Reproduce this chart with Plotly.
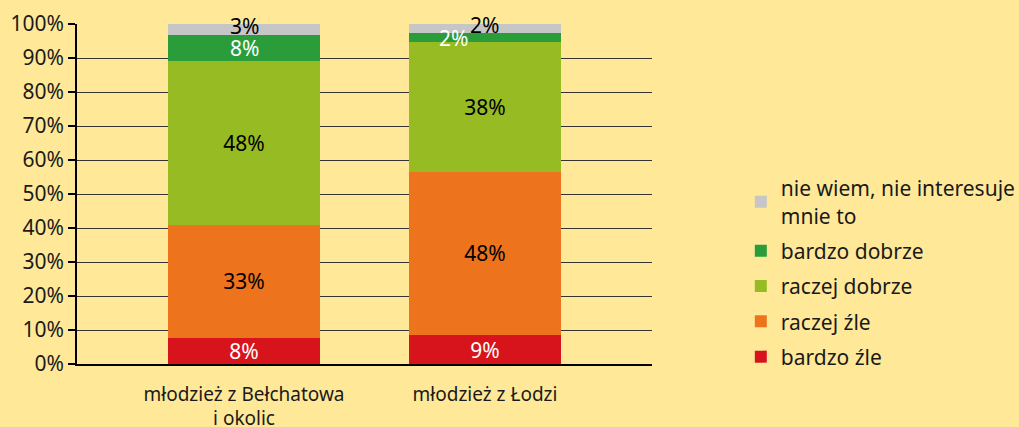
import plotly.graph_objects as go

categories = ["młodzież z Bełchatowa<br>i okolic", "młodzież z Łodzi"]

series_names = ["bardzo źle", "raczej źle", "raczej dobrze", "bardzo dobrze",
                "nie wiem, nie interesuje<br>mnie to"]

bardzo_zle = [7.7, 8.5]
raczej_zle = [33.2, 48.1]
raczej_dobrze = [48.2, 38.1]
bardzo_dobrze = [7.7, 2.7]
nie_wiem = [3.2, 2.6]

labels_bardzo_zle = ["8%", "9%"]
labels_raczej_zle = ["33%", "48%"]
labels_raczej_dobrze = ["48%", "38%"]
labels_bardzo_dobrze = ["8%", "2%"]
labels_nie_wiem = ["3%", "2%"]

y_ticks = [0, 10, 20, 30, 40, 50, 60, 70, 80, 90, 100]
y_tick_labels = [f"{v}%" for v in y_ticks]

series_values = [bardzo_zle, raczej_zle, raczej_dobrze, bardzo_dobrze, nie_wiem]
series_labels = [labels_bardzo_zle, labels_raczej_zle, labels_raczej_dobrze,
                 labels_bardzo_dobrze, labels_nie_wiem]
colors = ["#D7131B", "#ED731C", "#97BB22", "#2A9D3A", "#C6C6C6"]
text_colors = ["white", "black", "black", "white", "black"]
FONT = "Noto Sans"
BG = "#FFE999"
LABEL_SIZE = 21

fig = go.Figure()
n = len(series_names)
for i, (name, vals, labs) in enumerate(zip(series_names, series_values, series_labels)):
    inside = i < 3
    fig.add_trace(go.Bar(
        x=categories, y=vals, name=name,
        marker=dict(color=colors[i], line=dict(width=0)),
        text=labs if inside else None,
        textposition="inside" if inside else "none",
        insidetextanchor="middle",
        textfont=dict(color=text_colors[i], size=LABEL_SIZE, family=FONT),
        hoverinfo="skip",
        legendgroup=f"g{i}",
        legendrank=n - i,
    ))

# labels for the thin top segments
label_shifts = {3: [(0, 0), (-31, -1)], 4: [(0, 3), (0, 3)]}
for i in (3, 4):
    for j, cat in enumerate(categories):
        bottom = sum(series_values[k][j] for k in range(i))
        center = bottom + series_values[i][j] / 2
        dx, dy = label_shifts[i][j]
        fig.add_annotation(
            x=cat, y=center, text=series_labels[i][j], showarrow=False,
            xshift=dx, yshift=dy,
            font=dict(color=text_colors[i], size=LABEL_SIZE, family=FONT),
        )

fig.update_layout(
    barmode="stack",
    bargap=0.369,
    width=1019, height=427,
    margin=dict(l=77, r=367, t=24, b=63, pad=0, autoexpand=False),
    paper_bgcolor=BG, plot_bgcolor=BG,
    font=dict(family=FONT, color="#1a1a1a", size=19),
    uniformtext=dict(minsize=LABEL_SIZE, mode="show"),
    legend=dict(
        xref="container", yref="container",
        x=0.727, xanchor="left", y=0.6066, yanchor="top",
        traceorder="grouped", tracegroupgap=5,
        font=dict(size=21, family=FONT, color="#1a1a1a"),
        bgcolor="rgba(0,0,0,0)", itemclick=False, itemdoubleclick=False,
    ),
    showlegend=True,
)
fig.update_xaxes(
    range=[-0.693, 1.693], showgrid=False, showline=True, linecolor="black",
    linewidth=1.5, ticks="", tickfont=dict(size=19, family=FONT, color="#1a1a1a"),
    ticklabelstandoff=12, fixedrange=True, automargin=False,
)
fig.update_yaxes(
    range=[0, 100], tickvals=y_ticks, ticktext=y_tick_labels,
    showgrid=True, gridcolor="#333333", gridwidth=1,
    showline=True, linecolor="black", linewidth=1.5,
    ticks="outside", ticklen=7, tickcolor="black", tickwidth=1.5,
    tickfont=dict(size=21, family=FONT, color="#1a1a1a"),
    zeroline=False, fixedrange=True, automargin=False,
)

fig.write_html("out.html", config={"displayModeBar": False},
               post_script="document.body.style.margin='0';")
